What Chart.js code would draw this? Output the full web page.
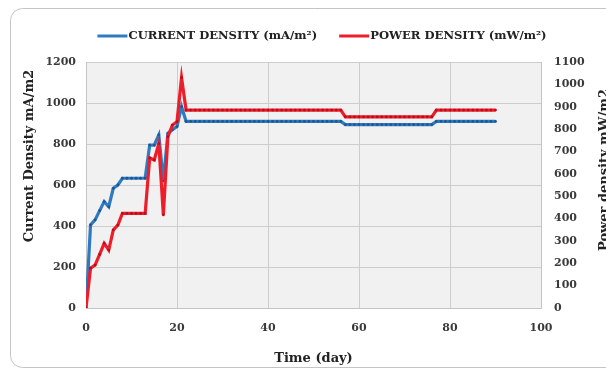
<!DOCTYPE html>
<html>
<head>
<meta charset="utf-8">
<script src="https://cdn.jsdelivr.net/npm/chart.js@4/dist/chart.umd.min.js"></script>
<style>
  html, body { margin: 0; padding: 0; background: #ffffff; }
  #wrap { position: relative; width: 606px; height: 373px; }
  canvas { display: block; }
</style>
</head>
<body>
<div id="wrap"><canvas id="c" width="606" height="373"></canvas></div>
<script>
// ---- data ----
const days = [
  0,1,2,3,4,5,6,7,8,9,
  10,11,12,13,14,15,16,17,18,19,
  20,21,22,23,24,25,26,27,28,29,
  30,31,32,33,34,35,36,37,38,39,
  40,41,42,43,44,45,46,47,48,49,
  50,51,52,53,54,55,56,57,58,59,
  60,61,62,63,64,65,66,67,68,69,
  70,71,72,73,74,75,76,77,78,79,
  80,81,82,83,84,85,86,87,88,89,
  90];

const currentDensity = [
  0,405,430,475,519,494,584,600,633,633,
  633,633,633,633,795,795,844,620,852,870,
  885,982,910,910,910,910,910,910,910,910,
  910,910,910,910,910,910,910,910,910,910,
  910,910,910,910,910,910,910,910,910,910,
  910,910,910,910,910,910,910,895,895,895,
  895,895,895,895,895,895,895,895,895,895,
  895,895,895,895,895,895,895,910,910,910,
  910,910,910,910,910,910,910,910,910,910,
  910];

const powerDensity = [
  0,178,192,240,289,259,349,371,423,423,
  423,423,423,423,671,662,735,416,766,818,
  833,1030,885,885,885,885,885,885,885,885,
  885,885,885,885,885,885,885,885,885,885,
  885,885,885,885,885,885,885,885,885,885,
  885,885,885,885,885,885,885,855,855,855,
  855,855,855,855,855,855,855,855,855,855,
  855,855,855,855,855,855,855,885,885,885,
  885,885,885,885,885,885,885,885,885,885,
  885];

const seriesLabels = ['CURRENT DENSITY (mA/m²)', 'POWER DENSITY (mW/m²)'];
const xTickValues = [0, 20, 40, 60, 80, 100];
const leftTickValues = [0, 200, 400, 600, 800, 1000, 1200];
const rightTickValues = [0,100,200,300,400,500,600,700,800,900,1000,1100];
const xTitle = 'Time (day)';
const leftTitle = 'Current Density mA/m2';
const rightTitle = 'Power density mW/m2';

// ---- styles ----
const BLUE = '#2f7bc2', BLUE_PT = '#1f5690';
const RED = '#ee1d2a', RED_PT = '#b3101c';
const FONT = "'DejaVu Serif', 'Liberation Serif', serif";
const TICK_COLOR = '#3a3a3a';

const framePlugin = {
  id: 'frame',
  beforeDraw(chart) {
    const { ctx, chartArea: a } = chart;
    ctx.save();
    ctx.strokeStyle = '#c4c4c4';
    ctx.lineWidth = 1;
    ctx.beginPath();
    ctx.roundRect(10.5, 8.5, 640, 359, 12);
    ctx.stroke();
    ctx.fillStyle = '#f1f1f1';
    ctx.fillRect(a.left, a.top, a.right - a.left, a.bottom - a.top);
    ctx.restore();
  },
  afterDraw(chart) {
    const { ctx, chartArea: a } = chart;
    ctx.save();
    ctx.fillStyle = '#222';
    ctx.font = 'bold 13px ' + FONT;
    ctx.textAlign = 'center';
    ctx.textBaseline = 'alphabetic';
    ctx.fillText(xTitle, (a.left + a.right) / 2, 362);
    ctx.save();
    ctx.translate(33, 156);
    ctx.rotate(-Math.PI / 2);
    ctx.fillText(leftTitle, 0, 0);
    ctx.restore();
    ctx.save();
    ctx.translate(608, 170);
    ctx.rotate(-Math.PI / 2);
    ctx.fillText(rightTitle, 0, 0);
    ctx.restore();

    // legend
    ctx.font = 'bold 11.6px ' + FONT;
    ctx.textAlign = 'left';
    ctx.textBaseline = 'middle';
    const ly = 36;
    const items = chart.data.datasets.map(d => ({ label: d.label, color: d.borderColor }));
    const lineLen = 30, gapText = 1, gapItem = 22;
    let total = 0;
    items.forEach((it, i) => {
      it.w = ctx.measureText(it.label).width;
      total += lineLen + gapText + it.w + (i ? gapItem : 0);
    });
    let x = 322 - total / 2;
    items.forEach((it, i) => {
      if (i) x += gapItem;
      ctx.strokeStyle = it.color;
      ctx.lineWidth = 3;
      ctx.beginPath();
      ctx.moveTo(x, ly);
      ctx.lineTo(x + lineLen, ly);
      ctx.stroke();
      x += lineLen + gapText;
      ctx.fillStyle = '#222';
      ctx.fillText(it.label, x, ly);
      x += it.w;
    });
    ctx.restore();
  }
};

const tickFont = { family: FONT, weight: 'bold', size: 11 };
const plain = v => String(v);

new Chart(document.getElementById('c'), {
  type: 'line',
  data: {
    labels: days,
    datasets: [
      {
        label: seriesLabels[0],
        data: days.map((d, i) => ({ x: d, y: currentDensity[i] })),
        yAxisID: 'y',
        borderColor: BLUE,
        backgroundColor: BLUE,
        borderWidth: 3.2,
        pointRadius: 1.4,
        pointBackgroundColor: BLUE_PT,
        pointBorderWidth: 0,
        tension: 0,
        order: 2
      },
      {
        label: seriesLabels[1],
        data: days.map((d, i) => ({ x: d, y: powerDensity[i] })),
        yAxisID: 'y1',
        borderColor: RED,
        backgroundColor: RED,
        borderWidth: 3.2,
        pointRadius: 1.4,
        pointBackgroundColor: RED_PT,
        pointBorderWidth: 0,
        tension: 0,
        order: 1
      }
    ]
  },
  options: {
    responsive: false,
    animation: false,
    layout: { padding: { top: 62, left: 0, right: 0, bottom: 0 } },
    plugins: { legend: { display: false }, tooltip: { enabled: false } },
    scales: {
      x: {
        type: 'linear',
        min: 0, max: 100,
        afterBuildTicks(axis) { axis.ticks = xTickValues.map(v => ({ value: v })); },
        afterFit(axis) { axis.height = 65; },
        grid: { color: '#cdcdcd', drawTicks: false, lineWidth: 1 },
        border: { color: '#c4c4c4' },
        ticks: { padding: 14, color: TICK_COLOR, font: tickFont, callback: plain }
      },
      y: {
        position: 'left',
        min: 0, max: 1200,
        afterBuildTicks(axis) { axis.ticks = leftTickValues.map(v => ({ value: v })); },
        afterFit(axis) { axis.width = 86; },
        grid: { color: '#cdcdcd', drawTicks: false, lineWidth: 1 },
        border: { color: '#c4c4c4' },
        ticks: { padding: 10, color: TICK_COLOR, font: tickFont, callback: plain }
      },
      y1: {
        position: 'right',
        min: 0, max: 1100,
        afterBuildTicks(axis) { axis.ticks = rightTickValues.map(v => ({ value: v })); },
        afterFit(axis) { axis.width = 65; },
        grid: { display: false, drawTicks: false },
        border: { color: '#c4c4c4' },
        ticks: { padding: 13, color: TICK_COLOR, font: tickFont, callback: plain }
      }
    }
  },
  plugins: [framePlugin]
});
</script>
</body>
</html>
